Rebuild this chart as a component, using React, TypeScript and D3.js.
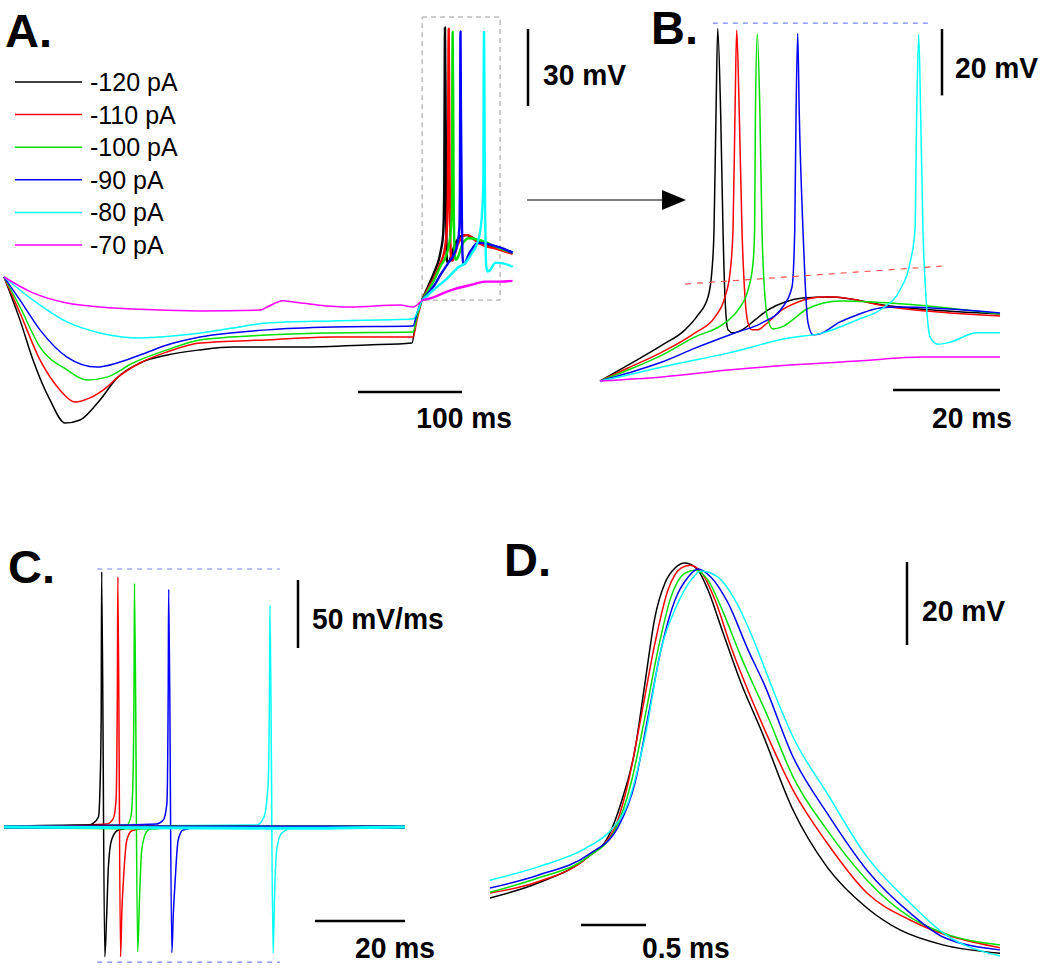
import React, { useEffect, useRef } from "react";
import * as d3 from "d3";

type Pt = [number, number];

// ---- shared ----
const currents = ["-120 pA", "-110 pA", "-100 pA", "-90 pA", "-80 pA", "-70 pA"];
const traceColors = ["#000000", "#ff0000", "#00e000", "#0000ff", "#00ffff", "#ff00ff"];
const STEP_END = 402; // ms, end of the hyperpolarizing step (panel A)

// ---- panel A: during the step (ms from step onset, mV) ----
const stepBlack: Pt[] = [[0, -60], [15.4, -76.8], [27.9, -92.3], [44.2, -107.9], [58.7, -116.9], [73.1, -115.7], [92.3, -107.9], [108.7, -99.3], [130.8, -93.5], [156.7, -90.4], [188.5, -88.4], [220.2, -87.3], [284.6, -87.3], [349, -86.5], [392.3, -85.7], [395.2, -79.5], [398.1, -72.9]];
const stepRed: Pt[] = [[0, -60], [15.4, -74.0], [34.6, -92.3], [53.8, -104.0], [68.3, -108.7], [82.7, -107.1], [99.0, -102.9], [108.7, -99.3], [130.8, -93.5], [156.7, -89.2], [188.5, -85.7], [252.9, -84.5], [316.3, -83.4], [393.3, -83.4], [397.1, -76.8]];
const stepGreen: Pt[] = [[0, -60], [15.4, -71.7], [34.6, -87.3], [60.6, -96.2], [79.8, -100.1], [99.0, -99.0], [124, -93.5], [156.7, -88.4], [188.5, -84.5], [252.9, -82.6], [316.3, -81.8], [393.3, -81.4], [397.1, -75.6]];
const stepBlue: Pt[] = [[0, -60], [15.4, -69.0], [34.6, -80.6], [60.6, -91.2], [89.4, -95.1], [108.7, -93.5], [130.8, -90.4], [156.7, -86.5], [188.5, -83.4], [252.9, -80.6], [316.3, -79.5], [393.3, -79.1], [397.1, -74.0]];
const stepCyan: Pt[] = [[0, -60], [27.9, -69.0], [60.6, -77.5], [92.3, -81.8], [130.8, -83.8], [172.1, -82.6], [220.2, -79.9], [252.9, -77.9], [316.3, -77.1], [393.3, -76.4], [398.1, -72.9]];
const stepMagenta: Pt[] = [[0, -60], [27.9, -66.2], [60.6, -70.1], [124, -72.5], [188.5, -73.2], [246.2, -72.9], [252.9, -71.7], [268.3, -69.3], [277.9, -69.7], [301, -70.9], [332.7, -71.7], [380.8, -70.9], [393.3, -71.7]];

// ---- panels A/B: after the step (ms after step end, mV) ----
const postBlack: Pt[] = [[0, -69], [5.23, -64.2], [11.59, -58.2], [15.89, -53.6], [18.32, -49.1], [20.19, -43.7], [20.93, -35.6], [21.31, -23.5], [21.68, 11.1], [22.0, 37.2], [22.56, 11.1], [22.99, -23.5], [23.36, -43.7], [23.93, -53.6], [24.86, -54.5], [26.54, -53.6], [28.97, -50.6], [31.4, -47.6], [34.58, -45.2], [37.94, -44.0], [42.99, -43.7], [54.21, -46.4], [74.77, -48.8], [87, -50.5]];
const postRed: Pt[] = [[0, -69], [5.23, -65.1], [11.59, -60.3], [17.76, -54.5], [21.5, -49.7], [23.36, -43.7], [24.3, -36.5], [24.86, -23.5], [25.23, 11.1], [25.55, 36.7], [26.04, 11.1], [26.54, -23.5], [27.1, -43.7], [27.66, -51.5], [28.41, -53.6], [29.53, -53.6], [30.84, -52.1], [34.02, -47.6], [37.01, -45.2], [41.68, -43.7], [43.55, -43.7], [54.21, -46.7], [74.77, -49.4], [87, -51]];
const postGreen: Pt[] = [[0, -69], [5.23, -65.7], [11.59, -61.2], [17.76, -55.7], [22.8, -52.1], [25.79, -47.6], [27.66, -41.6], [28.6, -33.5], [28.9, -23.5], [29.05, 11.1], [29.4, 35.5], [29.9, 11.1], [30.28, -23.5], [30.84, -43.7], [31.4, -50.6], [32.34, -53.3], [34.02, -52.7], [36.45, -50.0], [38.69, -47.3], [44.86, -44.9], [54.21, -45.5], [74.77, -48.8], [87, -50.5]];
const postBlue: Pt[] = [[0, -69], [5.23, -66.6], [11.59, -63.3], [17.76, -59.1], [25.23, -54.5], [30.28, -51.5], [34.02, -47.0], [35.89, -40.7], [36.4, -23.5], [36.64, 11.1], [36.95, 35.7], [37.25, 11.1], [37.94, -23.5], [38.32, -38.6], [38.88, -51.5], [39.81, -55.1], [41.12, -54.8], [44.86, -51.2], [48.04, -49.1], [52.34, -47.0], [55.51, -46.7], [74.77, -48.5], [87, -50.5]];
const postCyan: Pt[] = [[0, -69], [5.23, -67.2], [11.59, -64.8], [23.93, -60.6], [35.51, -56.0], [41.68, -54.5], [48.04, -50.6], [52.9, -47.0], [56.07, -41.6], [57.94, -33.5], [58.88, -23.5], [59.19, 11.1], [59.57, 35.4], [59.94, 11.1], [60.37, -23.5], [60.93, -43.7], [61.68, -55.7], [63.18, -57.9], [65.42, -57.3], [70.47, -54.5], [74.77, -54.5], [87, -56]];
const postMagenta: Pt[] = [[0, -69], [11.59, -67.8], [23.93, -65.7], [35.51, -64.2], [48.04, -63.0], [60.37, -61.8], [74.77, -61.8], [87, -61.5]];

// threshold line and peak line in B (ms after step end, mV)
const thresholdLine: Pt[] = [[15.9, -39.8], [63.9, -34.4]];
const peakLineB: Pt[] = [[21.1, 38.8], [62.2, 38.8]];

// ---- panel C: dV/dt (ms after step end, mV/ms) ----
const dvBlack: Pt[] = [[0, 0], [18.4, 1], [19.8, 2.7], [21.0, 7.6], [21.3, 24.8], [21.6, 81], [21.7, 187.7], [22.4, -95.4], [22.8, -66], [23.2, -29.2], [23.9, -9.6], [25.4, -2.2], [30, 0], [89.1, 0]];
const dvRed: Pt[] = [[0, 0], [22.8, 2.2], [24.3, 6.4], [24.9, 19.9], [25.2, 105.7], [25.3, 184], [25.9, -95.4], [26.2, -61], [26.5, -41.4], [27.3, -9.6], [28.4, -2.7], [33, 0], [89.1, 0]];
const dvGreen: Pt[] = [[0, 0], [27.3, 1.5], [28.2, 7.6], [28.6, 27.2], [28.9, 105.7], [29.0, 179.2], [29.7, -91.7], [30.1, -53.7], [30.6, -16.9], [31.7, -3.4], [32.8, -1], [36, 0], [89.1, 0]];
const dvBlue: Pt[] = [[0, 0], [33.9, 2.2], [35.4, 5.1], [36.2, 17.4], [36.5, 105.7], [36.6, 174.8], [37.3, -92.4], [37.6, -66], [38.0, -41.4], [38.7, -9.6], [39.8, -2.2], [44, 0], [89.1, 0]];
const dvCyan: Pt[] = [[0, 0], [56.2, 1.5], [57.8, 7.6], [58.7, 32.1], [59.0, 105.7], [59.1, 163.2], [59.8, -92.9], [60.1, -53.7], [60.6, -16.9], [61.7, -4.6], [64, -1], [89.1, 0]];
const dvPeakLine: Pt[] = [[20.7, 189.7], [61.3, 189.7]];
const dvTroughLine: Pt[] = [[20.7, -99.3], [61.3, -99.3]];

// ---- panel D: aligned spikes (ms, mV) ----
const apBlack: Pt[] = [[0, -50], [0.369, -46.4], [0.754, -40.1], [0.908, -35.3], [1.008, -27.1], [1.115, -14.3], [1.192, 1.8], [1.269, 17.7], [1.346, 25.9], [1.423, 29.5], [1.5, 30.7], [1.6, 29.0], [1.677, 24.2], [1.777, 15.3], [1.931, 1.8], [2.085, -9.5], [2.331, -28.8], [2.592, -42.5], [2.9, -52.4], [3.154, -57.7], [3.485, -61.3], [3.923, -63.3]];
const apRed: Pt[] = [[0, -48.8], [0.369, -46.1], [0.754, -40.1], [0.962, -32.9], [1.062, -22.3], [1.162, -6.4], [1.269, 11.4], [1.369, 24.2], [1.469, 29.5], [1.538, 30.2], [1.623, 28.6], [1.731, 21.8], [1.854, 10.5], [2.038, -4.0], [2.138, -11.2], [2.331, -24.0], [2.592, -36.7], [2.9, -48.8], [3.231, -55.3], [3.923, -62.0]];
const apGreen: Pt[] = [[0, -48.6], [0.369, -45.2], [0.754, -40.1], [0.962, -33.6], [1.085, -22.3], [1.192, -6.4], [1.292, 9.8], [1.392, 22.5], [1.5, 28.3], [1.577, 29.0], [1.677, 26.6], [1.777, 20.1], [1.931, 8.1], [2.138, -6.4], [2.331, -20.8], [2.592, -33.6], [2.9, -45.7], [3.231, -54.6], [3.485, -58.4], [3.923, -61.3]];
const apBlue: Pt[] = [[0, -47.6], [0.369, -44.5], [0.754, -39.6], [0.985, -32.9], [1.115, -22.3], [1.215, -6.4], [1.315, 9.8], [1.423, 21.8], [1.523, 27.3], [1.6, 29.3], [1.7, 27.3], [1.831, 21.1], [1.985, 9.8], [2.108, 1.6], [2.331, -16.0], [2.592, -29.5], [2.9, -43.3], [3.231, -53.6], [3.485, -59.4], [3.923, -62.5]];
const apCyan: Pt[] = [[0, -45.7], [0.369, -42.5], [0.754, -37.7], [0.931, -33.6], [1.062, -27.1], [1.192, -11.2], [1.315, 9.8], [1.446, 21.1], [1.546, 26.6], [1.623, 28.8], [1.754, 27.3], [1.885, 21.8], [2.038, 11.4], [2.138, 3.3], [2.331, -11.2], [2.592, -24.7], [2.9, -40.1], [3.231, -51.2], [3.485, -58.4], [3.923, -64.0]];

const FONT = "'Liberation Sans', Arial, sans-serif";

export default function App() {
  const svgRef = useRef<SVGSVGElement>(null);

  useEffect(() => {
    const svg = d3.select(svgRef.current);
    svg.selectAll("*").remove();
    svg.append("rect").attr("width", 1050).attr("height", 971).attr("fill", "#fff");

    const stepTraces = [stepBlack, stepRed, stepGreen, stepBlue, stepCyan, stepMagenta];
    const postTraces = [postBlack, postRed, postGreen, postBlue, postCyan, postMagenta];
    const dvTraces = [dvBlack, dvRed, dvGreen, dvBlue, dvCyan];
    const apTraces = [apBlack, apRed, apGreen, apBlue, apCyan];

    // scales (pixel ranges per panel)
    const xA = d3.scaleLinear().domain([0, 100]).range([4, 108]);
    const yA = d3.scaleLinear().domain([-60, -30]).range([277, 200]);
    const xB = d3.scaleLinear().domain([0, 20]).range([600, 707]);
    const yB = d3.scaleLinear().domain([-69, -49]).range([381, 314.6]);
    const xC = d3.scaleLinear().domain([0, 20]).range([4, 94]);
    const yC = d3.scaleLinear().domain([0, 50]).range([827, 759]);
    const xD = d3.scaleLinear().domain([0, 0.5]).range([490, 555]);
    const yD = d3.scaleLinear().domain([-50, -30]).range([898, 815]);

    const text = (x: number, y: number, s: string, size: number, bold: boolean, anchor = "start", sx = 1) =>
      svg
        .append("text")
        .attr("transform", `translate(${x},${y}) scale(${sx},1)`)
        .attr("font-family", FONT)
        .attr("font-size", size)
        .attr("font-weight", bold ? "bold" : "normal")
        .attr("text-anchor", anchor)
        .attr("fill", "#000")
        .text(s);

    // scale-bar labels: slightly condensed bold
    const barLabel = (x: number, y: number, s: string, anchor = "start") => text(x, y, s, 30, true, anchor, 0.94);

    const bar = (x1: number, y1: number, x2: number, y2: number) =>
      svg.append("line").attr("x1", x1).attr("y1", y1).attr("x2", x2).attr("y2", y2).attr("stroke", "#000").attr("stroke-width", 2.5);

    const draw = (data: Pt[], x: d3.ScaleLinear<number, number>, y: d3.ScaleLinear<number, number>, color: string, w: number, dash?: string) => {
      const line = d3
        .line<Pt>()
        .x((d) => x(d[0]))
        .y((d) => y(d[1]))
        .curve(d3.curveMonotoneX);
      const p = svg.append("path").attr("d", line(data)).attr("fill", "none").attr("stroke", color).attr("stroke-width", w).attr("stroke-linejoin", "round");
      if (dash) p.attr("stroke-dasharray", dash);
      return p;
    };

    // ---------- Panel A ----------
    svg
      .append("rect")
      .attr("x", xA(STEP_END))
      .attr("y", 17)
      .attr("width", xA(STEP_END + 75) - xA(STEP_END))
      .attr("height", yA(-69) - 17)
      .attr("fill", "none")
      .attr("stroke", "#9a9a9a")
      .attr("stroke-width", 1)
      .attr("stroke-dasharray", "5,4");

    stepTraces.forEach((s, i) => {
      const post = postTraces[i].map((d) => [d[0] + STEP_END, d[1]] as Pt);
      draw([...s, post[0]], xA, yA, traceColors[i], 1.5);
    });
    postTraces.forEach((p, i) => {
      const post = p.map((d) => [d[0] + STEP_END, d[1]] as Pt);
      draw(post, xA, yA, traceColors[i], 2.4);
    });

    // legend
    currents.forEach((c, i) => {
      const y = 82 + i * 32.6;
      svg.append("line").attr("x1", 15).attr("x2", 82).attr("y1", y).attr("y2", y).attr("stroke", traceColors[i]).attr("stroke-width", 1.5);
      text(90, y + 9, c, 25, false);
    });

    text(5, 47, "A.", 47, true);
    bar(528, 29, 528, 29 + (yA(-60) - yA(-30)));
    barLabel(543, 85, "30 mV");
    bar(462 - (xA(100) - xA(0)), 392, 462, 392);
    barLabel(512, 428, "100 ms", "end");

    // arrow
    svg.append("line").attr("x1", 527).attr("x2", 664).attr("y1", 200).attr("y2", 200).attr("stroke", "#000").attr("stroke-width", 1.2);
    svg.append("path").attr("d", "M662,190 L686,200 L662,210 Z").attr("fill", "#000");

    // ---------- Panel B ----------
    draw(peakLineB, xB, yB, "#8080ff", 1.2, "5,5");
    postTraces.forEach((p, i) => {
      draw(p.filter((d) => d[0] <= 75), xB, yB, traceColors[i], 1.5);
    });
    draw(thresholdLine, xB, yB, "#ff5555", 1.2, "6,6");

    text(651, 44, "B.", 47, true);
    bar(942, 29, 942, 29 + (yB(-69) - yB(-49)));
    barLabel(955, 78, "20 mV");
    bar(1000 - (xB(20) - xB(0)), 390, 1000, 390);
    barLabel(1012, 428, "20 ms", "end");

    // ---------- Panel C ----------
    draw(dvPeakLine, xC, yC, "#8080ff", 1.2, "5,5");
    draw(dvTroughLine, xC, yC, "#8080ff", 1.2, "5,5");
    dvTraces.forEach((d, i) => draw(d, xC, yC, traceColors[i], 1.5));
    // thicker baseline (noisy recording)
    dvTraces.forEach((d, i) => draw(d.filter((p) => Math.abs(p[1]) < 1.5), xC, yC, traceColors[i], 3));

    text(8, 583, "C.", 47, true);
    bar(298, 580, 298, 580 + (yC(0) - yC(50)));
    barLabel(312, 629, "50 mV/ms");
    bar(405 - (xC(20) - xC(0)), 921, 405, 921);
    barLabel(435, 958, "20 ms", "end");

    // ---------- Panel D ----------
    apTraces.forEach((d, i) => draw(d, xD, yD, traceColors[i], 1.5));
    text(504, 576, "D.", 47, true);
    bar(907, 562, 907, 562 + (yD(-50) - yD(-30)));
    barLabel(922, 621, "20 mV");
    bar(581, 925, 581 + (xD(0.5) - xD(0)), 925);
    barLabel(642, 958, "0.5 ms");
  }, []);

  return <svg ref={svgRef} width={1050} height={971} style={{ position: "absolute", left: 0, top: 0 }} />;
}
